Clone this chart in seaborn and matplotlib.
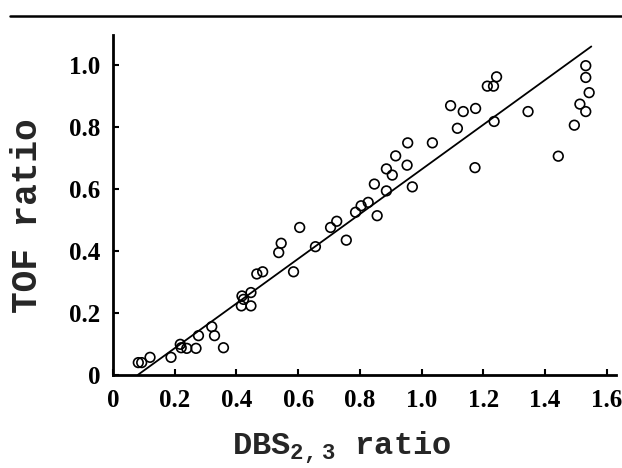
import matplotlib
matplotlib.use("Agg")
import matplotlib.pyplot as plt
import seaborn as sns
import pandas as pd
from matplotlib.lines import Line2D

# data
dbs_ratio = [0.082, 0.093, 0.120, 0.188, 0.218, 0.221, 0.239, 0.269, 0.277, 0.320,
             0.329, 0.358, 0.418, 0.423, 0.447, 0.416, 0.447, 0.466, 0.485, 0.537,
             0.545, 0.585, 0.605, 0.656, 0.705, 0.725, 0.756, 0.786, 0.804, 0.827,
             0.856, 0.847, 0.886, 0.886, 0.905, 0.916, 0.953, 0.970, 0.955, 1.035,
             1.094, 1.135, 1.175, 1.116, 1.173, 1.213, 1.233, 1.243, 1.235, 1.345,
             1.443, 1.495, 1.513, 1.532, 1.543, 1.532, 1.532]
tof_ratio = [0.040, 0.040, 0.057, 0.057, 0.099, 0.088, 0.086, 0.086, 0.127, 0.156,
             0.127, 0.088, 0.255, 0.244, 0.266, 0.223, 0.223, 0.326, 0.333, 0.395,
             0.425, 0.333, 0.476, 0.414, 0.476, 0.496, 0.435, 0.525, 0.546, 0.557,
             0.514, 0.616, 0.594, 0.665, 0.645, 0.707, 0.677, 0.607, 0.749, 0.749,
             0.869, 0.850, 0.860, 0.796, 0.669, 0.932, 0.932, 0.962, 0.818, 0.850,
             0.706, 0.806, 0.874, 0.850, 0.911, 0.960, 0.998]
fit_x = [0.08, 1.55]
fit_y = [0.0, 1.06]
x_ticks = [0, 0.2, 0.4, 0.6, 0.8, 1.0, 1.2, 1.4, 1.6]
x_tick_labels = ["0", "0.2", "0.4", "0.6", "0.8", "1.0", "1.2", "1.4", "1.6"]
y_ticks = [0, 0.2, 0.4, 0.6, 0.8, 1.0]
y_tick_labels = ["0", "0.2", "0.4", "0.6", "0.8", "1.0"]

df = pd.DataFrame({"DBS": dbs_ratio, "TOF": tof_ratio})
fit = pd.DataFrame({"x": fit_x, "y": fit_y})

sns.set_style("ticks")
plt.rcParams["font.family"] = ["Liberation Serif", "DejaVu Sans"]

fig = plt.figure(figsize=(6.22, 4.68), dpi=100)
ax = fig.add_axes([113 / 622, 93 / 468, (616 - 113) / 622, (375 - 35) / 468])

sns.lineplot(data=fit, x="x", y="y", ax=ax, color="black", linewidth=1.3)
sns.scatterplot(data=df, x="DBS", y="TOF", ax=ax, marker="o", s=48,
                facecolor="none", edgecolor="black", linewidth=1.2, zorder=3)

ax.set_xlim(0, 1.63)
ax.set_ylim(0, 1.097)
ax.set_xticks(x_ticks)
ax.set_xticklabels(x_tick_labels, fontsize=18, fontweight="bold")
ax.set_yticks(y_ticks)
ax.set_yticklabels(y_tick_labels, fontsize=18, fontweight="bold")
ax.tick_params(direction="in", length=4, width=1.5, colors="black")
ax.tick_params(axis="x", pad=10)
ax.tick_params(axis="y", pad=9)

for s in ["top", "right"]:
    ax.spines[s].set_visible(False)
for s in ["left", "bottom"]:
    ax.spines[s].set_linewidth(2)
    ax.spines[s].set_color("black")

ax.set_xlabel(r"DBS$_{\mathregular{2,3}}$ ratio", fontsize=23, fontweight="bold",
              family="Liberation Mono")
ax.set_ylabel("TOF ratio", fontsize=26, fontweight="bold",
              family="Liberation Mono")
ax.xaxis.set_label_coords(0.455, -0.16)
ax.yaxis.set_label_coords(-0.135, 0.468)

fig.add_artist(Line2D([10 / 622, 1.0], [1 - 16 / 468, 1 - 16 / 468],
                      transform=fig.transFigure, color="black", linewidth=1.8))

fig.savefig("out.png", dpi=100)
